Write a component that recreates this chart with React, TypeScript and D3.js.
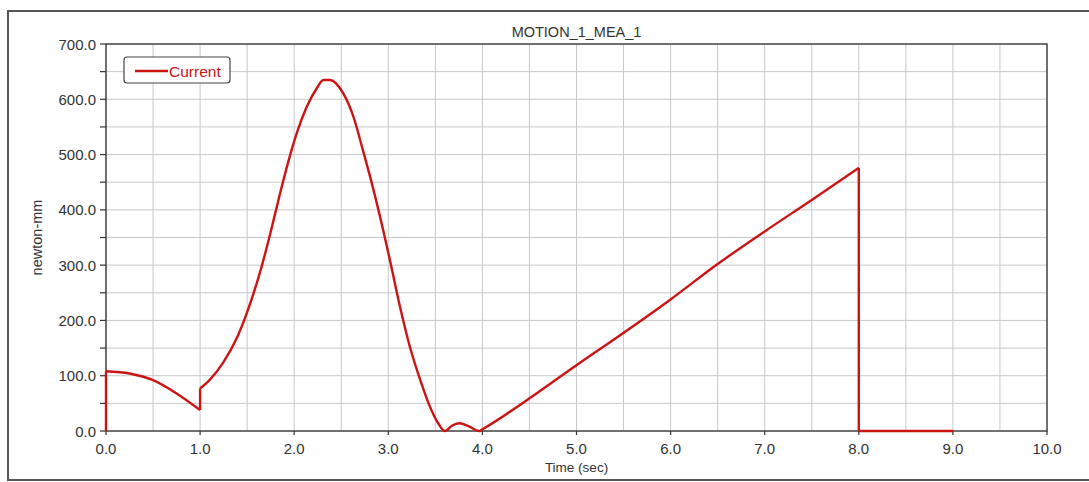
import React from "react";
import * as d3 from "d3";

const title = "MOTION_1_MEA_1";
const xLabel = "Time (sec)";
const yLabel = "newton-mm";
const seriesName = "Current";

const timeSec = [
  0, 0, 0.25, 0.5, 0.75, 1.0,
  1.0, 1.1, 1.25, 1.4, 1.5, 1.65, 1.75, 1.85, 1.95, 2.03, 2.13, 2.24, 2.31, 2.38, 2.52, 2.63, 2.73, 2.84, 2.95, 3.02, 3.12, 3.23, 3.34, 3.44, 3.53, 3.6,
  3.68, 3.76, 3.85, 3.97, 4.0, 5.0, 6.0, 6.5, 7.0, 7.5, 8.0,
  8.0, 9.0,
];
const torque = [
  0, 108, 104, 92, 68, 38,
  77, 92, 125, 172, 215, 295, 360, 430, 495, 540, 585, 620, 635, 635, 611, 568, 508, 438, 360, 307, 228, 152, 92, 45, 14, 0,
  10, 14, 9, 0, 3, 119, 238, 302, 361, 418, 476,
  0, 0,
];

const xTicks = [0, 1, 2, 3, 4, 5, 6, 7, 8, 9, 10];
const xGrid = d3.range(0, 10.01, 0.5);
const yTicks = [0, 100, 200, 300, 400, 500, 600, 700];
const yGrid = d3.range(0, 701, 50);

export default function App() {
  const W = 1089, H = 482;
  const left = 106, right = 1047, top = 44, bottom = 431;
  const x = d3.scaleLinear().domain([0, 10]).range([left, right]);
  const y = d3.scaleLinear().domain([0, 700]).range([bottom, top]);

  const pts = timeSec.map((t, i) => [t, torque[i]] as [number, number]);
  const runs: [number, number][][] = [];
  const jumps: [number, number][][] = [];
  let cur: [number, number][] = [pts[0]];
  for (let i = 1; i < pts.length; i++) {
    if (pts[i][0] === pts[i - 1][0]) {
      if (cur.length > 1) runs.push(cur);
      jumps.push([pts[i - 1], pts[i]]);
      cur = [pts[i]];
    } else cur.push(pts[i]);
  }
  if (cur.length > 1) runs.push(cur);
  const smooth = d3.line<[number, number]>().x(d => x(d[0])).y(d => y(d[1])).curve(d3.curveMonotoneX);
  const straight = d3.line<[number, number]>().x(d => x(d[0])).y(d => y(d[1]));
  const font = "'Liberation Sans', Arial, sans-serif";
  const red = "#cc1414";

  return (
    <svg width={W} height={H} style={{ position: "absolute", left: 0, top: 0, background: "#fff" }} fontFamily={font}>
      <rect x={8} y={11} width={1100} height={469} fill="#fff" stroke="#555" strokeWidth={2} />
      <text x={(left + right) / 2} y={37} textAnchor="middle" fontSize={14.5} fill="#333">{title}</text>
      {xGrid.map(v => (
        <line key={"xg" + v} x1={x(v)} x2={x(v)} y1={top} y2={bottom} stroke="#c8c8c8" strokeWidth={1} />
      ))}
      {yGrid.map(v => (
        <line key={"yg" + v} x1={left} x2={right} y1={y(v)} y2={y(v)} stroke="#c8c8c8" strokeWidth={1} />
      ))}
      <rect x={left} y={top} width={right - left} height={bottom - top} fill="none" stroke="#333" strokeWidth={1.3} />
      {yGrid.map(v => (
        <line key={"yt" + v} x1={left - 6} x2={left} y1={y(v)} y2={y(v)} stroke="#333" strokeWidth={1.2} />
      ))}
      {yTicks.map(v => (
        <text key={"yl" + v} x={left - 10} y={y(v) + 5.5} textAnchor="end" fontSize={15} fill="#333">{v.toFixed(1)}</text>
      ))}
      {xTicks.map(v => (
        <g key={"xt" + v}>
          <line x1={x(v)} x2={x(v)} y1={bottom} y2={bottom + 4} stroke="#333" strokeWidth={1.2} />
          <text x={x(v)} y={bottom + 23} textAnchor="middle" fontSize={15} fill="#333">{v.toFixed(1)}</text>
        </g>
      ))}
      <text x={(left + right) / 2} y={472} textAnchor="middle" fontSize={13.5} fill="#333">{xLabel}</text>
      <text transform={`translate(42,${(top + bottom) / 2}) rotate(-90)`} textAnchor="middle" fontSize={14.5} fill="#333">{yLabel}</text>
      <g fill="none" stroke={red} strokeWidth={2.4} strokeLinejoin="round">
        {runs.map((r, i) => <path key={"r" + i} d={smooth(r) || ""} />)}
        {jumps.map((r, i) => <path key={"j" + i} d={straight(r) || ""} />)}
      </g>
      <rect x={124} y={57} width={106} height={26} rx={3} fill="#fff" stroke="#444" strokeWidth={1.2} />
      <line x1={135} x2={168} y1={71} y2={71} stroke={red} strokeWidth={2.4} />
      <text x={169} y={76.5} fontSize={15.5} fill={red}>{seriesName}</text>
    </svg>
  );
}
